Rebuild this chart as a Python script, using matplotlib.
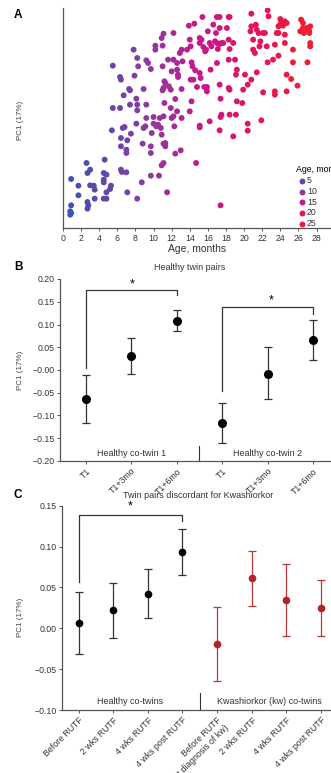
# PC1 vs age (A) and PC1 over time for twin pairs (B, C)
import numpy as np
import matplotlib.pyplot as plt
from matplotlib.colors import LinearSegmentedColormap

plt.rcParams['font.family'] = ['Liberation Sans', 'DejaVu Sans']

# ---- panel A data: age (months) and PC1 score
age = [0.9, 1.7, 1.7, 0.9, 0.8, 0.8, 0.9,
       2.6, 2.7, 3.0, 3.0, 3.4, 3.5, 2.7, 2.8, 2.7, 3.5,
       4.6, 4.5, 4.8, 4.5, 4.5, 4.8, 5.2, 5.3, 4.5, 4.8, 5.5, 5.5, 5.4,
       6.3, 6.4, 6.3, 6.7, 6.4, 6.6, 6.8, 7.0, 7.0, 7.1, 6.4, 6.4, 6.5, 7.0, 7.1, 7.3, 7.4, 7.4, 7.5,
       7.8, 8.2, 8.3, 7.9, 8.1, 8.2, 8.2, 8.1, 8.8, 8.7, 8.2, 8.9, 9.2, 9.4, 9.2, 9.1, 8.9,
       9.7, 9.2, 10.0, 9.8, 9.7, 9.7, 9.7, 10.2, 10.2, 10.0, 10.3, 10.5, 11.0, 11.0, 10.9, 11.1,
       11.2, 11.1, 11.2, 11.1, 10.7, 10.8, 10.9, 11.1, 11.3, 11.3, 10.9, 11.1, 10.6, 11.5, 11.0,
       11.3, 11.6, 11.7, 11.9, 12.0, 12.2, 12.2, 12.4, 11.9, 12.0, 12.2, 12.6, 12.3, 12.4, 13.0,
       13.1, 13.1, 12.6, 12.6, 12.7, 12.7, 12.9, 13.1, 13.2,
       13.9, 14.5, 13.7, 14.0, 14.1, 14.2, 14.3, 14.4, 14.1, 14.6, 14.8, 14.0, 14.2, 15.1, 15.1,
       14.7, 15.1, 15.3, 15.1, 15.1, 15.2, 15.4, 15.5, 15.7, 15.8, 15.6, 15.9, 16.0, 16.2, 15.9,
       16.2, 16.4, 16.6, 16.8, 17.0, 16.9, 17.0, 17.3, 17.1, 17.3, 17.3, 17.5, 17.7, 16.3, 17.0,
       17.3, 17.4, 17.5, 17.4, 17.3, 17.4, 18.1, 18.3, 18.4, 18.3, 18.4, 18.3, 18.4, 18.4, 18.3,
       18.8, 19.0, 19.1, 19.2, 19.1, 18.8, 19.2,
       20.1, 20.4, 19.9, 19.8, 20.4, 20.4, 20.8, 20.8, 20.7, 21.0, 21.0, 21.3, 21.4, 21.6, 21.7,
       21.8, 22.1, 22.3, 21.2, 21.4, 20.8, 21.9, 22.1, 22.6, 22.7, 22.5, 22.6, 23.2, 23.4, 23.8,
       23.4, 23.4, 23.8, 24.0, 24.0, 24.1, 24.5, 24.7, 23.6, 24.5, 24.5, 24.3, 23.8, 24.7, 25.2,
       25.4, 25.4, 26.3, 26.5, 26.6, 26.9, 27.1, 27.3, 27.2, 27.2, 27.0, 27.3, 27.3, 26.5, 26.2,
       25.9, 24.7]
pc1 = [-0.208, -0.228, -0.257, -0.287, -0.305, -0.315, -0.310,
       -0.160, -0.190, -0.180, -0.227, -0.228, -0.240, -0.277, -0.287, -0.297, -0.267,
       -0.150, -0.190, -0.195, -0.210, -0.218, -0.248, -0.238, -0.228, -0.267, -0.267, 0.132, 0.005, -0.062,
       0.098, 0.090, 0.005, 0.043, -0.085, -0.055, -0.052, -0.120, -0.130, -0.092, -0.110, -0.180, -0.187, -0.188, -0.248, 0.062, 0.058, 0.015, -0.072,
       0.180, 0.155, 0.130, 0.102, 0.033, 0.015, -0.002, -0.042, -0.102, -0.218, -0.267, 0.062, 0.148, 0.140, 0.015, -0.050, -0.055,
       0.122, -0.025, -0.022, -0.070, -0.110, -0.130, -0.198, 0.192, 0.180, -0.042, -0.050, -0.045, 0.192, 0.130, 0.215, 0.228,
       0.085, 0.065, 0.020, -0.020, -0.025, -0.055, -0.075, -0.102, -0.110, -0.100, -0.167, -0.160, -0.198, -0.248, 0.058,
       0.080, 0.150, 0.070, 0.060, 0.115, 0.230, 0.150, 0.032, 0.005, -0.025, -0.020, -0.005, -0.050, -0.132, -0.122,
       0.062, -0.025, 0.140, 0.120, 0.105, 0.098, 0.170, 0.180, 0.145,
       0.252, 0.258, 0.180, 0.210, 0.190, 0.142, 0.130, 0.090, 0.090, 0.118, 0.068, -0.005, 0.025, -0.053, -0.048,
       -0.160, 0.215, 0.210, 0.200, 0.110, 0.095, 0.278, 0.188, 0.175, 0.180, 0.068, 0.055, 0.235, -0.035, 0.068,
       0.200, 0.190, 0.255, 0.205, 0.200, 0.230, 0.278, 0.245, 0.182, 0.278, 0.197, 0.200, 0.200, 0.120, 0.140,
       0.075, 0.033, -0.015, -0.022, -0.062, -0.287, 0.245, 0.278, 0.278, 0.210, 0.182, 0.065, 0.060, -0.015, 0.150,
       0.200, 0.150, -0.015, 0.120, 0.105, -0.080, 0.025,
       0.105, 0.075, 0.060, 0.020, -0.042, -0.063, 0.288, 0.250, 0.235, 0.210, 0.180, 0.255, 0.240, 0.230, 0.190,
       0.205, 0.230, 0.230, 0.170, 0.112, 0.090, -0.032, 0.052, 0.298, 0.280, 0.190, 0.142, 0.150, 0.195, 0.162,
       0.055, 0.045, 0.230, 0.255, 0.272, 0.262, 0.265, 0.260, 0.230, 0.225, 0.200, 0.252, 0.250, 0.055, 0.092,
       0.180, 0.142, 0.270, 0.260, 0.230, 0.245, 0.240, 0.250, 0.235, 0.230, 0.142, 0.200, 0.190, 0.245, 0.235,
       0.072, 0.105]
legend_ages = [5, 10, 15, 20, 25]
age_ticks = np.arange(0, 29, 2)

# ---- panel B data: healthy twin pairs
b_labels = ['T1', 'T1+3mo', 'T1+6mo', 'T1', 'T1+3mo', 'T1+6mo']
b_mean = [-0.064, 0.030, 0.108, -0.116, -0.008, 0.066]
b_low = [-0.116, -0.009, 0.085, -0.160, -0.064, 0.022]
b_high = [-0.011, 0.070, 0.132, -0.072, 0.050, 0.110]
b_groups = ['Healthy co-twin 1', 'Healthy co-twin 2']

# ---- panel C data: twins discordant for kwashiorkor
c_labels = ['Before RUTF', '2 wks RUTF', '4 wks RUTF', '4 wks post RUTF',
            'Before RUTF\n(at diagnosis of kw)', '2 wks RUTF', '4 wks RUTF', '4 wks post RUTF']
c_mean = [0.006, 0.022, 0.042, 0.093, -0.019, 0.061, 0.035, 0.025]
c_low = [-0.032, -0.012, 0.012, 0.065, -0.064, 0.027, -0.009, -0.010]
c_high = [0.045, 0.056, 0.073, 0.121, 0.026, 0.095, 0.079, 0.059]
c_groups = ['Healthy co-twins', 'Kwashiorkor (kw) co-twins']

age_cmap = LinearSegmentedColormap.from_list(
    'age', [(0, '#3853b5'), (0.33, '#8a3c9f'), (0.55, '#c7178c'), (0.75, '#e2145e'), (1, '#f21f2c')])
agemax = 28

fig = plt.figure(figsize=(3.31, 7.73), dpi=100)
W, H = 331., 773.
FS = 6.3

def frame(ax):
    ax.spines['top'].set_visible(False)
    ax.spines['right'].set_visible(False)
    for s in ['left', 'bottom']:
        ax.spines[s].set_color('#555555')
        ax.spines[s].set_linewidth(0.9)
    ax.tick_params(direction='out', length=2.5, width=0.7, colors='#555555',
                   labelcolor='#333333', labelsize=FS, pad=1.5)

# ---------------- A
axA = fig.add_axes([63 / W, 1 - 228 / H, 1 - 63 / W, (228 - 8) / H])
frame(axA)
axA.scatter(age, pc1, c=age, cmap=age_cmap, vmin=0, vmax=agemax, s=18, lw=0)
axA.set_xlim(0, 29.6)
axA.set_ylim(-0.355, 0.305)
axA.set_xticks(age_ticks)
axA.set_yticks([])
axA.set_xlabel('Age, months', fontsize=7.5, color='#333333', labelpad=1)
for a in legend_ages:
    axA.scatter([], [], color=age_cmap(a / agemax), s=18, lw=0, label=str(a))
leg = axA.legend(loc='upper left', bbox_to_anchor=(292 / W, 1 - 161 / H), bbox_transform=fig.transFigure,
                 frameon=False, fontsize=FS, title='Age, months', title_fontsize=FS,
                 handletextpad=0.0, labelspacing=0.2, borderpad=0, handlelength=1.2, alignment='left')
for t in leg.get_texts():
    t.set_color('#333333')

# ---------------- B
axB = fig.add_axes([60 / W, 1 - 461 / H, 1 - 60 / W, (461 - 279) / H])
frame(axB)
xb = np.arange(len(b_mean))
bm = np.array(b_mean)
axB.errorbar(xb, bm, yerr=[bm - np.array(b_low), np.array(b_high) - bm], fmt='o', color='black',
             ecolor='#333333', elinewidth=0.9, capsize=3, capthick=0.9, markersize=5.5)
axB.set_xlim(-0.565, 5.39)
axB.set_ylim(-0.2, 0.2)
axB.set_yticks(np.arange(-0.2, 0.201, 0.05))
axB.yaxis.set_major_formatter('{x:.2f}')
axB.set_xticks(xb)
axB.set_xticklabels(b_labels, rotation=45, ha='right', rotation_mode='anchor')
# significance brackets
axB.plot([0, 0, 2, 2], [0.005, 0.176, 0.176, 0.165], color='#333333', lw=0.9)
axB.text(1.03, 0.188, '*', ha='center', va='center', fontsize=9)
axB.plot([3, 3, 5, 5], [-0.046, 0.139, 0.139, 0.124], color='#333333', lw=0.9)
axB.text(4.07, 0.152, '*', ha='center', va='center', fontsize=9)
axB.plot([2.5, 2.5], [-0.2, -0.166], color='#333333', lw=0.8, clip_on=False)
axB.text(1, -0.183, b_groups[0], ha='center', va='center', fontsize=6.5, color='#333333')
axB.text(4, -0.183, b_groups[1], ha='center', va='center', fontsize=6.5, color='#333333')

# ---------------- C
axC = fig.add_axes([62 / W, 1 - 710 / H, 1 - 62 / W, (710 - 505.7) / H])
frame(axC)
xc = np.arange(len(c_mean))
cm = np.array(c_mean)
cerr = [cm - np.array(c_low), np.array(c_high) - cm]
axC.errorbar(xc[:4], cm[:4], yerr=[cerr[0][:4], cerr[1][:4]], fmt='o', color='black',
             ecolor='#333333', elinewidth=0.9, capsize=3, capthick=0.9, markersize=4.5)
axC.errorbar(xc[4:], cm[4:], yerr=[cerr[0][4:], cerr[1][4:]], fmt='o', color='#b22428',
             ecolor='#b8383a', elinewidth=0.9, capsize=3, capthick=0.9, markersize=4.5)
axC.set_xlim(-0.48, 7.29)
axC.set_ylim(-0.1, 0.15)
axC.set_yticks(np.arange(-0.1, 0.151, 0.05))
axC.yaxis.set_major_formatter('{x:.2f}')
axC.set_xticks(xc)
axC.set_xticklabels(c_labels, rotation=45, ha='right', rotation_mode='anchor')
axC.plot([0, 0, 3, 3], [0.057, 0.139, 0.139, 0.131], color='#333333', lw=0.9)
axC.text(1.5, 0.149, '*', ha='center', va='center', fontsize=9, clip_on=False)
axC.plot([3.5, 3.5], [-0.1, -0.079], color='#333333', lw=0.8, clip_on=False)
axC.text(1.5, -0.0895, c_groups[0], ha='center', va='center', fontsize=6.5, color='#333333')
axC.text(5.5, -0.0895, c_groups[1], ha='center', va='center', fontsize=6.5, color='#333333')

# ---------------- labels
for letter, y in [('A', 15), ('B', 267), ('C', 495)]:
    fig.text(14 / W, 1 - y / H, letter, fontsize=8.5, fontweight='bold', va='center')
for y in [120, 370, 617]:
    fig.text(20 / W, 1 - y / H, 'PC1 (17%)', rotation=90, fontsize=5.8, color='#444444',
             ha='center', va='center')
fig.text(190 / W, 1 - 268 / H, 'Healthy twin pairs', fontsize=6.5, color='#333333', ha='center', va='center')
fig.text(198 / W, 1 - 495 / H, 'Twin pairs discordant for Kwashiorkor', fontsize=6.5, color='#333333',
         ha='center', va='center')

fig.savefig('out.png', dpi=100)
